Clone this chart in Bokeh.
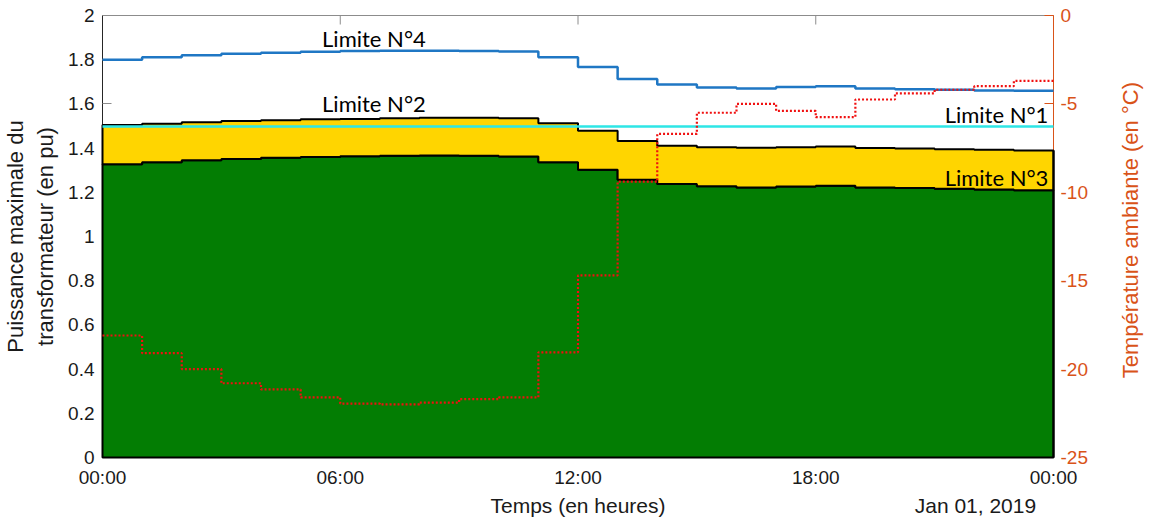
import numpy as np
from bokeh.plotting import figure
from bokeh.layouts import row
from bokeh.models import Range1d, LinearAxis, FixedTicker, Label
from bokeh.embed import file_html
from bokeh.resources import INLINE

# ---------------- data ----------------
hours = list(range(25))  # hour edges 00:00 .. 24:00

# Limite N°3 (top of green area)
limite3 = [1.327, 1.336, 1.345, 1.351, 1.356, 1.360, 1.363, 1.365, 1.366, 1.365, 1.362, 1.336,
           1.302, 1.257, 1.237, 1.227, 1.222, 1.226, 1.230, 1.222, 1.219, 1.216, 1.213, 1.209]
# Limite N°2 (top of yellow area)
limite2 = [1.505, 1.510, 1.517, 1.523, 1.526, 1.530, 1.532, 1.535, 1.537, 1.537, 1.535, 1.512,
           1.479, 1.432, 1.411, 1.404, 1.402, 1.404, 1.407, 1.400, 1.398, 1.395, 1.392, 1.389]
# Limite N°1 (cyan)
limite1 = [1.498, 1.498, 1.498, 1.498, 1.498, 1.498, 1.498, 1.498, 1.498, 1.498, 1.498, 1.498,
           1.498, 1.498, 1.498, 1.498, 1.498, 1.498, 1.498, 1.498, 1.498, 1.498, 1.498, 1.498]
# Limite N°4 (blue)
limite4 = [1.800, 1.811, 1.820, 1.827, 1.832, 1.836, 1.839, 1.840, 1.840, 1.839, 1.837, 1.811,
           1.767, 1.713, 1.688, 1.674, 1.670, 1.676, 1.680, 1.670, 1.666, 1.664, 1.661, 1.659]
# Ambient temperature (°C)
temperature = [-18.1, -19.1, -20.0, -20.8, -21.15, -21.6, -21.95, -22.0, -21.9, -21.7, -21.6, -19.05,
               -14.7, -9.4, -6.7, -5.5, -5.0, -5.4, -5.75, -4.75, -4.4, -4.2, -4.0, -3.7]

x_tick_values = [0, 6, 12, 18, 24]
x_tick_labels = ["00:00", "06:00", "12:00", "18:00", "00:00"]
y_tick_values = [0, 0.2, 0.4, 0.6, 0.8, 1, 1.2, 1.4, 1.6, 1.8, 2]
y_tick_labels = ["0", "0.2", "0.4", "0.6", "0.8", "1", "1.2", "1.4", "1.6", "1.8", "2"]
t_tick_values = [-25, -20, -15, -10, -5, 0]
t_tick_labels = ["-25", "-20", "-15", "-10", "-5", "0"]
# second row under the time axis
x_row2_values = [12, 22.03]
x_row2_labels = ["Temps (en heures)", "Jan 01, 2019"]

ORANGE = "#D95319"
TICK_FONT = "Liberation Sans"
TXT = "#1a1a1a"
BOX = "#8c8c8c"


def step_xy(vals):
    xs = np.repeat(np.array(hours, dtype=float), 2)[1:-1]
    ys = np.repeat(np.array(vals, dtype=float), 2)
    return xs, ys


xs, y3 = step_xy(limite3)
_, y2 = step_xy(limite2)
_, y1 = step_xy(limite1)
_, y4 = step_xy(limite4)
_, yt = step_xy(temperature)

p = figure(width=1110, height=519, x_range=Range1d(hours[0], hours[-1]), y_range=Range1d(0, 2),
           output_backend="svg", toolbar_location=None,
           x_axis_type=None, y_axis_type=None,
           min_border_left=100, min_border_right=57, min_border_top=15, min_border_bottom=60)
p.extra_y_ranges = {"temp": Range1d(-25, 0)}
p.grid.visible = False
p.outline_line_color = BOX
p.outline_line_width = 1
p.background_fill_color = "white"
p.border_fill_color = "white"

# top box ticks (inside)
p.ray(x=x_tick_values, y=[y_tick_values[-1]] * len(x_tick_values), length=9, length_units="screen",
      angle=-np.pi / 2, line_color=BOX, line_width=1)

LVL = "annotation"  # draw the data above the axis ticks (ticks hidden under areas)
gx = np.concatenate([[hours[0]], xs, [hours[-1]]])
gy = np.concatenate([[0.0], y3, [0.0]])
p.patch(gx, gy, fill_color="#037D03", line_color="black", line_width=2, level=LVL)
yx = np.concatenate([xs, xs[::-1]])
yy = np.concatenate([y2, y3[::-1]])
p.patch(yx, yy, fill_color="#FFD500", line_color="black", line_width=2, level=LVL)
p.segment(x0=[hours[-1]], y0=[0], x1=[hours[-1]], y1=[limite2[-1]], line_color="black",
          line_width=2, level=LVL)
p.line(xs, y1, line_color="#2EE6E6", line_width=2.5, level=LVL)
p.line(xs, y4, line_color="#1F77C4", line_width=2.5, level=LVL)
p.line(xs, yt, y_range_name="temp", line_color="#F01010", line_width=2.2, line_dash="2 2", level=LVL)

# ---------------- axes ----------------
xb = LinearAxis(ticker=FixedTicker(ticks=x_tick_values),
                major_label_overrides={v: l for v, l in zip(x_tick_values, x_tick_labels)})
xb.major_tick_in = 0
xb.major_tick_out = 0
xb.minor_tick_line_color = None
xb.axis_line_color = "#262626"
xb.major_label_text_font = TICK_FONT
xb.major_label_text_font_size = "19px"
xb.major_label_text_color = TXT
xb.major_label_standoff = 9
p.add_layout(xb, "below")

xb2 = LinearAxis(ticker=FixedTicker(ticks=x_row2_values),
                 major_label_overrides={v: l for v, l in zip(x_row2_values, x_row2_labels)})
xb2.axis_line_color = None
xb2.major_tick_line_color = None
xb2.minor_tick_line_color = None
xb2.major_tick_in = 0
xb2.major_tick_out = 0
xb2.major_label_text_font = TICK_FONT
xb2.major_label_text_font_size = "21px"
xb2.major_label_text_color = TXT
xb2.major_label_standoff = 3
p.add_layout(xb2, "below")

yl = LinearAxis(ticker=FixedTicker(ticks=y_tick_values),
                major_label_overrides={v: l for v, l in zip(y_tick_values, y_tick_labels)},
                axis_label="Puissance maximale du\ntransformateur (en pu)")
yl.major_tick_in = 9
yl.major_tick_out = 0
yl.minor_tick_line_color = None
yl.axis_line_color = "#262626"
yl.major_tick_line_color = BOX
yl.major_label_text_font = TICK_FONT
yl.major_label_text_font_size = "19px"
yl.major_label_text_color = TXT
yl.major_label_standoff = 8
yl.axis_label_text_font = TICK_FONT
yl.axis_label_text_font_size = "22px"
yl.axis_label_text_font_style = "normal"
yl.axis_label_text_color = TXT
yl.axis_label_standoff = 7
p.add_layout(yl, "left")

yr = LinearAxis(y_range_name="temp", ticker=FixedTicker(ticks=t_tick_values),
                major_label_overrides={v: l for v, l in zip(t_tick_values, t_tick_labels)})
yr.major_tick_in = 9
yr.major_tick_out = 0
yr.minor_tick_line_color = None
yr.axis_line_color = ORANGE
yr.major_tick_line_color = ORANGE
yr.major_label_text_font = TICK_FONT
yr.major_label_text_font_size = "19px"
yr.major_label_text_color = ORANGE
yr.major_label_standoff = 7
p.add_layout(yr, "right")

# ---------------- curve names ----------------
LBL_FONT = "Lato"
for txt, x, y, align in [("Limite N°4", 6.85, 1.896, "center"),
                         ("Limite N°2", 6.85, 1.604, "center"),
                         ("Limite N°1", 23.87, 1.55, "right"),
                         ("Limite N°3", 23.87, 1.266, "right")]:
    p.add_layout(Label(x=x, y=y, text=txt, text_font=LBL_FONT, text_font_size="22px",
                       text_color="black", text_align=align, text_baseline="middle"))

# ---------------- right axis title (reads bottom-to-top) ----------------
p2 = figure(width=40, height=519, x_range=Range1d(0, 1), y_range=Range1d(0, 519),
            output_backend="svg", toolbar_location=None, x_axis_type=None, y_axis_type=None,
            min_border=0)
p2.grid.visible = False
p2.outline_line_color = None
p2.background_fill_color = "white"
p2.border_fill_color = "white"
p2.add_layout(Label(x=0.5, y=267, text="Température ambiante (en °C)", angle=np.pi / 2,
                    text_font=TICK_FONT, text_font_size="22px", text_color=ORANGE,
                    text_align="center", text_baseline="middle"))

layout = row(p, p2, spacing=0)
open("out.html", "w").write(file_html(layout, INLINE))
